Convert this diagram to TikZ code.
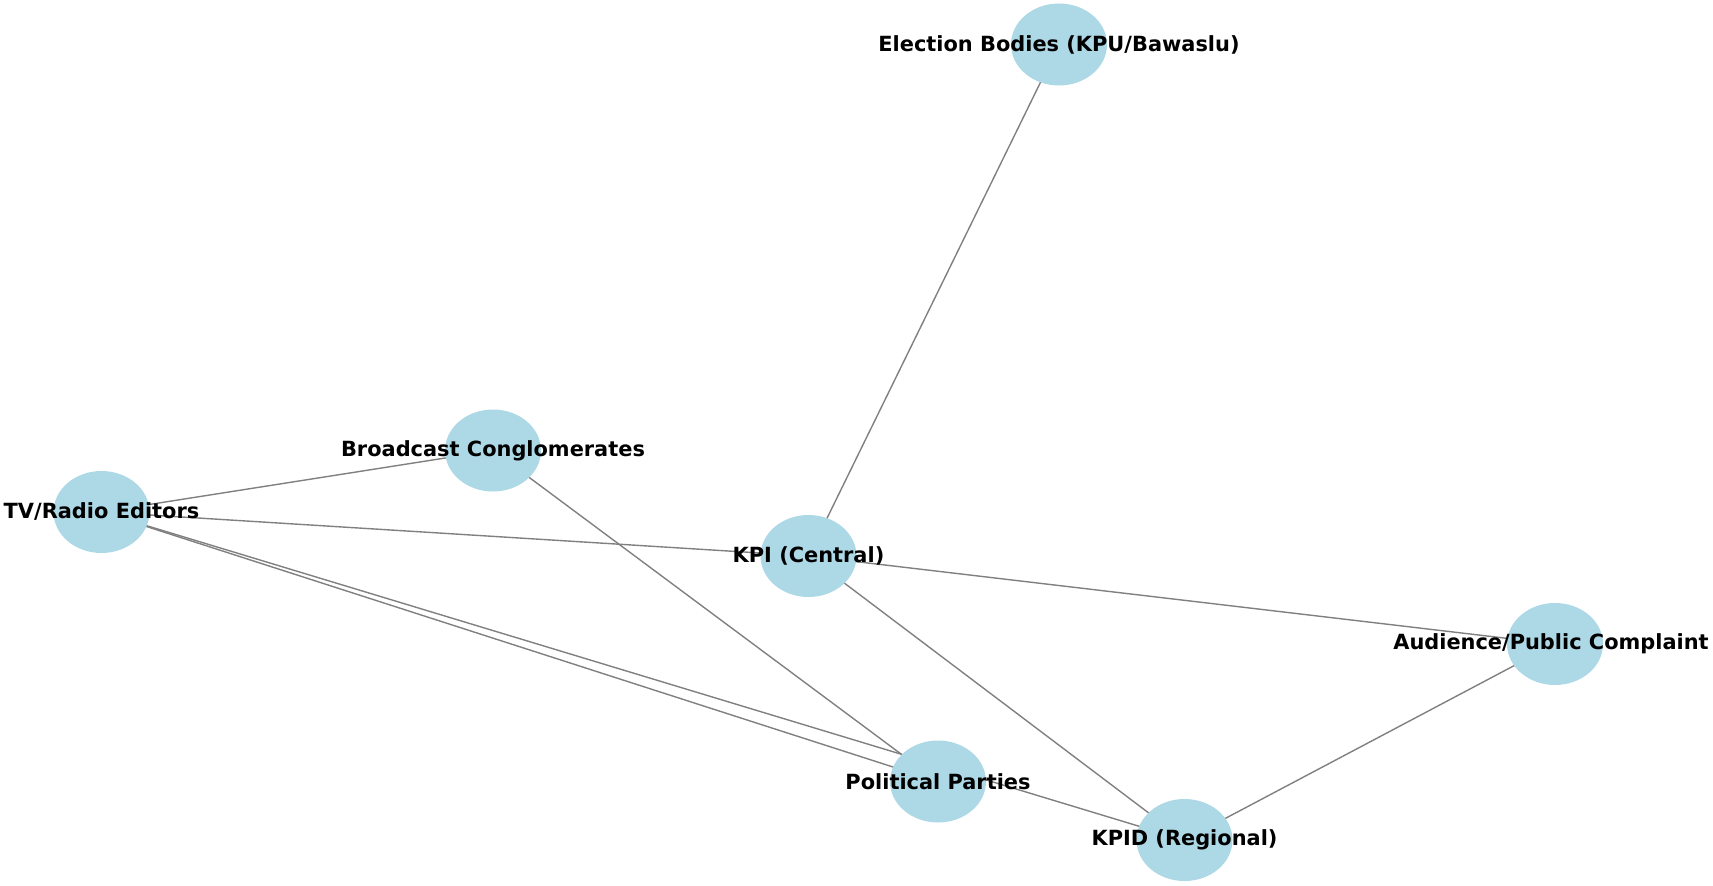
\documentclass[tikz,border=0pt]{standalone}
\usepackage{fontspec}
\setmainfont{DejaVu Sans}
\usetikzlibrary{shapes.geometric,backgrounds}
\definecolor{nodeblue}{HTML}{ADD8E6}
\definecolor{edgegray}{HTML}{808080}
\tikzset{
  dot/.style={ellipse,fill=nodeblue,draw=none,minimum width=96bp,minimum height=82bp,inner sep=0pt},
  lbl/.style={font=\fontsize{20.9bp}{24bp}\selectfont\bfseries,text=black,inner sep=0pt,anchor=center},
  link/.style={draw=edgegray,line width=1.4bp}
}
\begin{document}
\begin{tikzpicture}[x=1bp,y=-1bp]
\useasboundingbox (0,0) rectangle (1713,885);
\node[dot] (elec) at (1059,44.5) {};
\node[dot] (bc) at (493,450.5) {};
\node[dot] (tv) at (101.5,512) {};
\node[dot] (kpi) at (808.5,556) {};
\node[dot] (aud) at (1555,644) {};
\node[dot] (pp) at (938,781.5) {};
\node[dot] (kpid) at (1184.5,840) {};
\begin{scope}[on background layer]
\draw[link] (elec.center) -- (kpi.center);
\draw[link] (tv.center) -- (bc.center);
\draw[link] (tv.center) -- (kpi.center);
\draw[link] (tv.center) -- (pp.center);
\draw[link] (tv.center) -- (kpid.center);
\draw[link] (bc.center) -- (pp.center);
\draw[link] (kpi.center) -- (aud.center);
\draw[link] (kpi.center) -- (kpid.center);
\draw[link] (aud.center) -- (kpid.center);
\end{scope}
\node[lbl] (elec-l) at (elec) {Election Bodies (KPU/Bawaslu)};
\node[lbl] (bc-l) at (bc) {Broadcast Conglomerates};
\node[lbl] (tv-l) at (tv) {TV/Radio Editors};
\node[lbl] (kpi-l) at (kpi) {KPI (Central)};
\node[lbl] (aud-l) at ([xshift=-4bp]aud.center) {Audience/Public Complaint};
\node[lbl] (pp-l) at (pp) {Political Parties};
\node[lbl] (kpid-l) at (kpid) {KPID (Regional)};
\end{tikzpicture}
\end{document}
